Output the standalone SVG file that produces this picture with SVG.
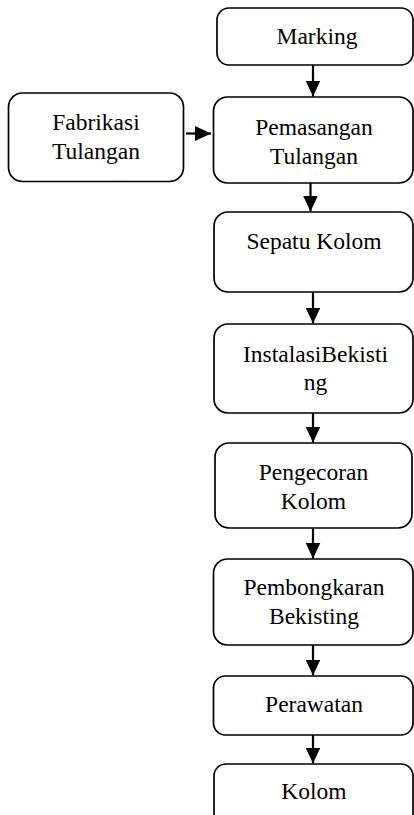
<svg xmlns="http://www.w3.org/2000/svg" width="414" height="815" viewBox="0 0 414 815">
<style>
.box{fill:#fff;stroke:#000;stroke-width:1.7}
.c{stroke:#000;stroke-width:2.2;fill:none}
</style>
<defs>
<marker id="ah" markerUnits="userSpaceOnUse" markerWidth="16" markerHeight="16" viewBox="0 0 16 16" refX="16" refY="8" orient="auto">
<path d="M0,0.5 L16,8 L0,15.5 Z" fill="#000"/>
</marker>
</defs>
<rect width="414" height="815" fill="#fff"/>
<g id="connectors">
<line class="c" x1="313" y1="65" x2="313" y2="96.5" marker-end="url(#ah)"/>
<line class="c" x1="186" y1="133.5" x2="211" y2="133.5" marker-end="url(#ah)"/>
<line class="c" x1="310.5" y1="183" x2="310.5" y2="211.5" marker-end="url(#ah)"/>
<line class="c" x1="313" y1="292" x2="313" y2="323.5" marker-end="url(#ah)"/>
<line class="c" x1="313" y1="413" x2="313" y2="442.5" marker-end="url(#ah)"/>
<line class="c" x1="313" y1="528" x2="313" y2="558.5" marker-end="url(#ah)"/>
<line class="c" x1="313" y1="645" x2="313" y2="675.5" marker-end="url(#ah)"/>
<line class="c" x1="313" y1="735" x2="313" y2="763.5" marker-end="url(#ah)"/>
</g>
<g font-family="'Liberation Serif', 'DejaVu Serif', serif" font-size="23.5" fill="#000" text-anchor="middle">
<g id="marking">
<rect class="box" x="217" y="8" width="196" height="57" rx="12"/>
<text x="317" y="43.5">Marking</text>
</g>
<g id="fabrikasi">
<rect class="box" x="8.5" y="93" width="175" height="88.5" rx="14"/>
<text x="96" y="130">Fabrikasi</text>
<text x="96" y="158.5">Tulangan</text>
</g>
<g id="pemasangan">
<rect class="box" x="213.5" y="97" width="199.5" height="86" rx="14"/>
<text x="314" y="135">Pemasangan</text>
<text x="314" y="163.5">Tulangan</text>
</g>
<g id="sepatu">
<rect class="box" x="214" y="212" width="199" height="80" rx="14"/>
<text x="314" y="248.5">Sepatu Kolom</text>
</g>
<g id="instalasi">
<rect class="box" x="214" y="324" width="199" height="89" rx="14"/>
<text x="315.5" y="361.5">InstalasiBekisti</text>
<text x="315.5" y="390">ng</text>
</g>
<g id="pengecoran">
<rect class="box" x="215" y="443" width="197" height="85" rx="14"/>
<text x="313.5" y="480">Pengecoran</text>
<text x="313.5" y="508.5">Kolom</text>
</g>
<g id="pembongkaran">
<rect class="box" x="213.5" y="559" width="199.5" height="86" rx="14"/>
<text x="314" y="595">Pembongkaran</text>
<text x="314" y="623.5">Bekisting</text>
</g>
<g id="perawatan">
<rect class="box" x="213.5" y="676" width="199.5" height="59" rx="12"/>
<text x="314" y="711.5">Perawatan</text>
</g>
<g id="kolom">
<rect class="box" x="214" y="764" width="199" height="62" rx="12"/>
<text x="314" y="798.5">Kolom</text>
</g>
</g>
</svg>
